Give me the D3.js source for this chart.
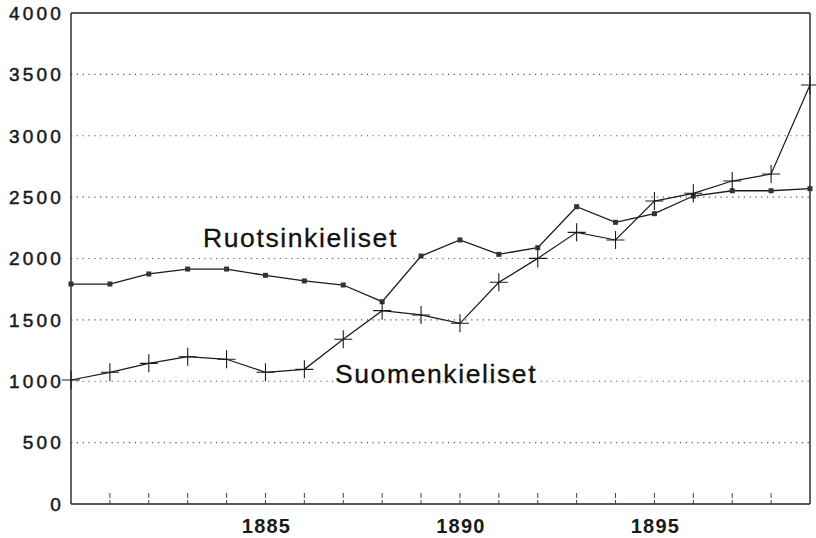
<!DOCTYPE html>
<html>
<head>
<meta charset="utf-8">
<script src="https://cdn.jsdelivr.net/npm/d3@7"></script>
<style>
  html, body { margin: 0; padding: 0; background: #fff; }
  svg { display: block; }
</style>
</head>
<body>
<svg id="chart" width="816" height="538"></svg>
<script>
const years = d3.range(1880, 1900);
const ruotsinkieliset = [1792, 1792, 1874, 1914, 1914, 1863, 1817, 1784, 1648, 2020,
                         2151, 2034, 2088, 2422, 2295, 2365, 2509, 2552, 2552, 2569];
const suomenkieliset = [1010, 1073, 1146, 1200, 1179, 1073, 1097, 1342, 1575, 1540,
                        1472, 1806, 2001, 2213, 2151, 2468, 2531, 2631, 2688, 3413];
const yTicks = [0, 500, 1000, 1500, 2000, 2500, 3000, 3500, 4000];
const xLabels = [1885, 1890, 1895];

const svg = d3.select('#chart');
const x = d3.scaleLinear().domain([1880, 1899]).range([71, 810]);
const y = d3.scaleLinear().domain([0, 4000]).range([504, 13]);

// dotted gridlines
svg.append('g')
  .selectAll('line')
  .data(yTicks.filter(d => d > 0 && d < 4000))
  .join('line')
  .attr('x1', x(1880)).attr('x2', x(1899))
  .attr('y1', d => y(d)).attr('y2', d => y(d))
  .attr('stroke', '#555')
  .attr('stroke-width', 1.2)
  .attr('stroke-dasharray', '1.2,4.6');

// frame: left axis, top and right border, bottom axis
const frame = svg.append('g').attr('stroke', '#222').attr('fill', 'none').attr('stroke-width', 1.4);
frame.append('line').attr('x1', x(1880)).attr('x2', x(1880)).attr('y1', y(4000)).attr('y2', y(0));
frame.append('line').attr('x1', x(1880)).attr('x2', x(1899)).attr('y1', y(4000)).attr('y2', y(4000));
frame.append('line').attr('x1', x(1899)).attr('x2', x(1899)).attr('y1', y(4000)).attr('y2', y(0));
frame.append('line').attr('x1', x(1880)).attr('x2', x(1899)).attr('y1', y(0)).attr('y2', y(0));

// year ticks
svg.append('g')
  .selectAll('line')
  .data(years.slice(1, -1))
  .join('line')
  .attr('x1', d => x(d)).attr('x2', d => x(d))
  .attr('y1', y(0)).attr('y2', y(0) - 11)
  .attr('stroke', '#444')
  .attr('stroke-width', 1)
  .attr('stroke-dasharray', '4,2,5');

// y tick labels
svg.append('g')
  .selectAll('text')
  .data(yTicks)
  .join('text')
  .attr('x', 64)
  .attr('y', d => y(d))
  .attr('dy', '0.36em')
  .attr('text-anchor', 'end')
  .attr('font-family', 'Liberation Sans, Arial, sans-serif')
  .attr('font-size', 19)
  .attr('letter-spacing', 3.2)
  .attr('fill', '#1a1a1a')
  .attr('stroke', '#1a1a1a')
  .attr('stroke-width', 0.5)
  .text(d => d);

// x labels
svg.append('g')
  .selectAll('text')
  .data(xLabels)
  .join('text')
  .attr('x', d => x(d) + 1)
  .attr('y', 533)
  .attr('text-anchor', 'middle')
  .attr('font-family', 'Liberation Sans, Arial, sans-serif')
  .attr('font-weight', 'bold')
  .attr('font-size', 20)
  .attr('letter-spacing', 1.2)
  .attr('fill', '#1a1a1a')
  .text(d => d);

const line = d3.line().x((d, i) => x(years[i])).y(d => y(d));

// Ruotsinkieliset
svg.append('path')
  .datum(ruotsinkieliset)
  .attr('d', line)
  .attr('fill', 'none')
  .attr('stroke', '#1a1a1a')
  .attr('stroke-width', 1.3);
svg.append('g')
  .selectAll('rect')
  .data(ruotsinkieliset)
  .join('rect')
  .attr('x', (d, i) => x(years[i]) - 2.5)
  .attr('y', d => y(d) - 2.5)
  .attr('width', 5).attr('height', 5)
  .attr('fill', '#333');

// Suomenkieliset
svg.append('path')
  .datum(suomenkieliset)
  .attr('d', line)
  .attr('fill', 'none')
  .attr('stroke', '#1a1a1a')
  .attr('stroke-width', 1.2);
svg.append('g')
  .selectAll('path')
  .data(suomenkieliset)
  .join('path')
  .attr('d', (d, i) => {
    const cx = x(years[i]), cy = y(d), r = 9;
    return `M${cx - r},${cy}H${cx + r}M${cx},${cy - r}V${cy + r}`;
  })
  .attr('stroke', '#1a1a1a')
  .attr('stroke-width', 1.1);

// series labels
const labels = svg.append('g')
  .attr('font-family', 'Liberation Sans, Arial, sans-serif')
  .attr('font-size', 26.5)
  .attr('letter-spacing', 1.6)
  .attr('fill', '#111')
  .attr('stroke', '#111')
  .attr('stroke-width', 0.3);
labels.append('text').attr('x', 203).attr('y', 247).text('Ruotsinkieliset');
labels.append('text').attr('x', 335).attr('y', 383).text('Suomenkieliset');
</script>
</body>
</html>
